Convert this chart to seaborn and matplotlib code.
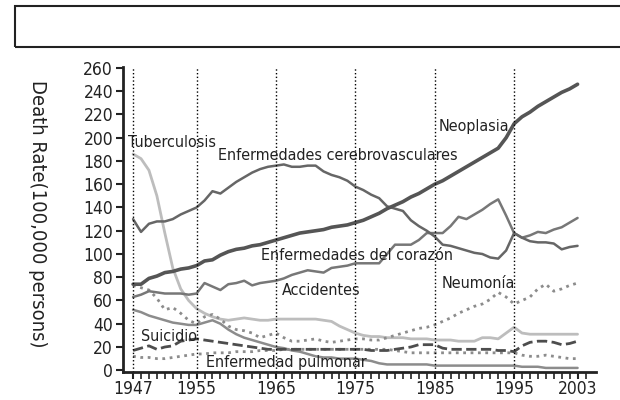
import matplotlib
matplotlib.use('Agg')
import matplotlib.pyplot as plt
import seaborn as sns
import pandas as pd
from matplotlib.patches import Rectangle

# years and death rates (per 100,000)
years = list(range(1947, 2004))

neoplasia = [74, 74, 79, 81, 84, 85, 87, 88, 90, 94,
             95, 99, 102, 104, 105, 107, 108, 110, 112, 114,
             116, 118, 119, 120, 121, 123, 124, 125, 127, 129,
             132, 135, 139, 142, 145, 149, 152, 156, 160, 163,
             167, 171, 175, 179, 183, 187, 191, 200, 212, 218,
             222, 227, 231, 235, 239, 242, 246]

cerebro = [130, 119, 126, 128, 128, 130, 134, 137, 140, 146,
           154, 152, 157, 162, 166, 170, 173, 175, 176, 177,
           175, 175, 176, 176, 171, 168, 166, 163, 158, 155,
           151, 148, 141, 139, 137, 129, 124, 120, 115, 108,
           107, 105, 103, 101, 100, 97, 96, 103, 118, 114,
           111, 110, 110, 109, 104, 106, 107]

corazon = [63, 65, 68, 67, 66, 66, 66, 65, 66, 75,
           72, 69, 74, 75, 77, 73, 75, 76, 77, 79,
           82, 84, 86, 85, 84, 88, 89, 90, 92, 92,
           92, 92, 100, 108, 108, 108, 112, 118, 118, 118,
           124, 132, 130, 134, 138, 143, 147, 133, 118, 114,
           116, 119, 118, 121, 123, 127, 131]

tuberculosis = [186, 182, 172, 150, 118, 88, 70, 60, 53, 49,
                46, 44, 43, 44, 45, 44, 43, 43, 44, 44,
                44, 44, 44, 44, 43, 42, 38, 35, 32, 30,
                29, 29, 28, 28, 28, 27, 27, 27, 26, 26,
                26, 25, 25, 25, 28, 28, 27, 32, 37, 32,
                31, 31, 31, 31, 31, 31, 31]

pulmonar = [52, 50, 47, 45, 43, 41, 40, 39, 39, 41,
            43, 40, 35, 31, 28, 26, 24, 22, 20, 19,
            17, 16, 14, 12, 11, 11, 10, 10, 10, 9,
            8, 6, 5, 5, 5, 5, 5, 5, 4, 4,
            4, 4, 4, 4, 4, 4, 4, 4, 4, 3,
            3, 3, 2, 2, 2, 2, 2]

neumonia = [73, 71, 69, 62, 52, 54, 49, 43, 40, 46,
            48, 44, 38, 35, 34, 32, 28, 30, 32, 28,
            25, 25, 26, 27, 25, 24, 25, 26, 27, 27,
            26, 26, 28, 30, 32, 34, 36, 37, 39, 42,
            45, 49, 52, 55, 57, 61, 67, 63, 57, 60,
            63, 70, 74, 68, 70, 73, 75]

suicidio = [17, 19, 21, 18, 20, 21, 25, 26, 27, 26,
            25, 24, 23, 22, 21, 20, 19, 18, 18, 18,
            18, 18, 18, 18, 18, 18, 18, 18, 18, 18,
            17, 17, 17, 18, 19, 20, 22, 22, 22, 19,
            18, 18, 18, 18, 18, 18, 17, 17, 16, 21,
            24, 25, 25, 24, 22, 23, 25]

accidentes = [12, 11, 11, 10, 10, 11, 12, 13, 14, 14,
              15, 15, 15, 16, 16, 16, 17, 17, 17, 18,
              18, 18, 18, 18, 18, 18, 18, 18, 18, 18,
              18, 18, 18, 17, 16, 15, 15, 15, 15, 15,
              15, 15, 15, 15, 15, 15, 15, 15, 15, 13,
              12, 12, 13, 12, 11, 10, 10]

guide_years = [1947, 1955, 1965, 1975, 1985, 1995]
tick_years = [1947, 1955, 1965, 1975, 1985, 1995, 2003]

labels = ['Tuberculosis', 'Enfermedades cerebrovasculares', 'Neoplasia',
          'Enfermedades del corazón', 'Accidentes', 'Neumonía',
          'Suicidio', 'Enfermedad pulmonar']
label_x = [1946.4, 1957.7, 1985.5, 1963.1, 1965.7, 1985.9, 1948.0, 1956.2]
label_y = [196, 185, 210, 99, 69, 75, 29, 7]

sns.set_style('ticks')
plt.rcParams['font.family'] = ['DejaVu Sans']
plt.rcParams['font.stretch'] = 'condensed'

fig = plt.figure(figsize=(6.2, 4.0), dpi=100)
ax = fig.add_axes([0.198, 0.07, 0.763, 0.763])

# series: (values, colour, linestyle, width)
series = [
    (tuberculosis, '#bdbdbd', '-', 2.0),
    (pulmonar, '#8c8c8c', '-', 1.8),
    (accidentes, '#8c8c8c', ':', 2.0),
    (neumonia, '#8c8c8c', ':', 2.0),
    (suicidio, '#4d4d4d', '--', 2.0),
    (corazon, '#777777', '-', 1.8),
    (cerebro, '#666666', '-', 1.8),
    (neoplasia, '#555555', '-', 2.6),
]
for vals, col, ls, lw in series:
    df = pd.DataFrame({'year': years, 'rate': vals})
    sns.lineplot(data=df, x='year', y='rate', color=col, linestyle=ls,
                 linewidth=lw, ax=ax)

for gy in guide_years:
    ax.axvline(gy, ymin=0, ymax=1, color='black', linestyle=':', linewidth=1)

for txt, tx, ty in zip(labels, label_x, label_y):
    ax.text(tx, ty, txt, ha='left', va='center', fontsize=11.5,
            color='#222222', fontstretch='condensed')

ax.set_xlim(1945.7, 2005.3)
ax.set_ylim(-1.5, 261)
ax.set_xticks(tick_years)
ax.set_xticks(range(1947, 2005), minor=True)
ax.set_yticks(range(0, 261, 20))
ax.tick_params(axis='both', which='major', labelsize=12.5, length=5, width=1.5,
               color='#222222', labelcolor='#222222')
ax.tick_params(axis='x', which='major', pad=0.5)
ax.tick_params(axis='y', which='major', pad=2)
ax.tick_params(axis='x', which='minor', length=5, width=1.2, color='#222222')
ax.set_xlabel('')
ax.set_ylabel('Death Rate(100,000 persons)', rotation=-90, fontsize=14.5,
              color='#222222', labelpad=40)
ax.yaxis.set_label_coords(-0.2, 0.52)
for side in ['left', 'bottom']:
    ax.spines[side].set_linewidth(2)
    ax.spines[side].set_color('#222222')
sns.despine(ax=ax)

# empty title box on top
fig.patches.append(Rectangle((15 / 620, 1 - 47 / 400), 1.0, 41 / 400,
                             transform=fig.transFigure, fill=False,
                             edgecolor='#222222', linewidth=1.5))

fig.savefig('out.png', dpi=100)
